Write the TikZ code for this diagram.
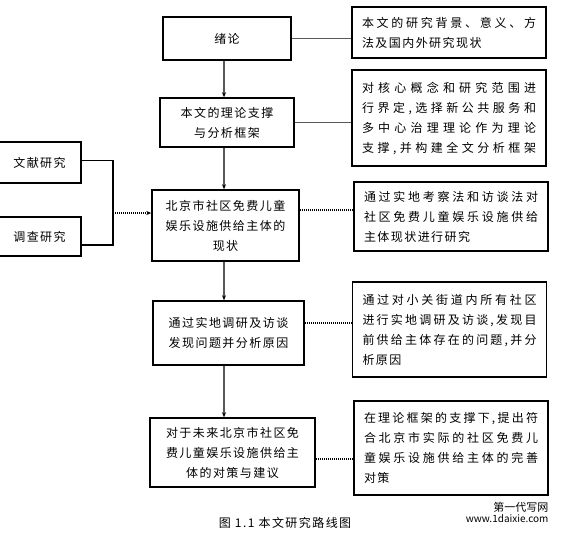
\documentclass[tikz,border=0pt]{standalone}
\usepackage{fontspec}
\newfontfamily\cjk{Noto Sans CJK SC}[LetterSpace=12]
\newfontfamily\cjkplain{Noto Sans CJK SC}
\usepackage{tikz}
\usetikzlibrary{arrows.meta,calc,positioning}
% spread one line of characters over the full text width
\newcommand\spreadline[1]{\makebox[\hsize][s]{\spreadloop#1\spreadend}}
\def\spreadend{}
\def\spreadloop#1#2{#1\ifx#2\spreadend\else\hfil\expandafter\spreadloop\expandafter#2\fi}

\begin{document}
\begin{tikzpicture}[x=1pt,y=-1pt,
  box/.style={draw,line width=1.5pt,font={\cjk\fontsize{12}{20}\selectfont\parindent=0pt},align=center,inner sep=0pt},
  note/.style={box,text width=174pt,align=left,inner xsep=10pt},
  link/.style={line width=1.1pt,gray!70!black},
  flow/.style={line width=1.3pt,gray!70!black,-{Stealth[length=5pt,width=4pt,black]}},
  dots/.style={line width=2pt,dash pattern=on 1pt off 1pt}]
\useasboundingbox (0,0) rectangle (562,533);
\coordinate (axis) at (224,0);
% middle column
\node[box,minimum width=128pt,minimum height=43pt] (xulun) at (227,38.5) {绪论};
\node[box,minimum width=134pt,minimum height=49pt] (kuangjia) at (227,122.5) {本文的理论支撑\\与分析框架};
\node[box,minimum width=147pt,minimum height=71pt] (xianzhuang) at (225.5,225.5) {北京市社区免费儿童\\娱乐设施供给主体的\\现状};
\node[box,minimum width=151pt,minimum height=64pt] (wenti) at (228.5,333) {通过实地调研及访谈\\发现问题并分析原因};
\node[box,minimum width=165pt,minimum height=69pt] (duice) at (232.5,452.5) {对于未来北京市社区免\\费儿童娱乐设施供给主\\体的对策与建议};
% left column
\node[box,minimum width=83pt,minimum height=41pt] (wenxian) at (39.5,162.5) {文献研究};
\node[box,minimum width=83pt,minimum height=39pt] (diaocha) at (39.5,236.5) {调查研究};
% right column
\node[note,minimum height=51pt] (beijing) at (449,32.5) {\spreadline{本文的研究背景、意义、方}\\法及国内外研究现状};
\node[note,minimum height=96pt] (lilun) at (449,118) {\spreadline{对核心概念和研究范围进}\\\spreadline{行界定,选择新公共服务和}\\\spreadline{多中心治理理论作为理论}\\\spreadline{支撑,并构建全文分析框架}};
\node[note,minimum height=69pt] (fangfa) at (451,216.5) {\spreadline{通过实地考察法和访谈法对}\\\spreadline{社区免费儿童娱乐设施供给}\\主体现状进行研究};
\node[note,minimum height=95pt] (diaoyan) at (449.5,329.5) {\spreadline{通过对小关街道内所有社区}\\\spreadline{进行实地调研及访谈,发现目}\\\spreadline{前供给主体存在的问题,并分}\\析原因};
\node[note,minimum height=94pt] (wanshan) at (451,448) {\spreadline{在理论框架的支撑下,提出符}\\\spreadline{合北京市实际的社区免费儿}\\\spreadline{童娱乐设施供给主体的完善}\\对策};
% arrows down the middle
\draw[flow] (xulun.south -| axis) -- (kuangjia.north -| axis);
\draw[flow] (kuangjia.south -| axis) -- (xianzhuang.north -| axis);
\draw[flow] (xianzhuang.south -| axis) -- (wenti.north -| axis);
\draw[flow] (wenti.south -| axis) -- (duice.north -| axis);
% links to the right
\draw[link] (xulun.east) -- (xulun.east -| beijing.west);
\draw[link] (kuangjia.east) -- (kuangjia.east -| lilun.west);
\draw[dots] ([yshift=16pt]xianzhuang.east) -- ([yshift=16pt]xianzhuang.east -| fangfa.west);
\draw[dots] ([yshift=10pt]wenti.east) -- ([yshift=10pt]wenti.east -| diaoyan.west);
\draw[dots] ([yshift=-6pt]duice.east) -- ([yshift=-6pt]duice.east -| wanshan.west);
% bracket on the left
\coordinate (join) at (113,213);
\draw[line width=1.5pt] ([yshift=2pt]wenxian.east) -| (join) |- ([yshift=-8.5pt]diaocha.east);
\draw[dots,-{Stealth[length=5pt,width=4pt]}] (join) -- (join -| xianzhuang.west);
\node[font={\cjk\fontsize{12}{14}\selectfont}] (caption) at (285,523) {图 1.1 本文研究路线图};
\node[anchor=east,font={\cjkplain\fontsize{11}{12}\selectfont}] (mark) at (552,507) {第一代写网};
\node[anchor=east,font={\cjkplain\fontsize{10}{12}\selectfont}] (site) at (552,519) {www.1daixie.com};
\end{tikzpicture}
\end{document}
